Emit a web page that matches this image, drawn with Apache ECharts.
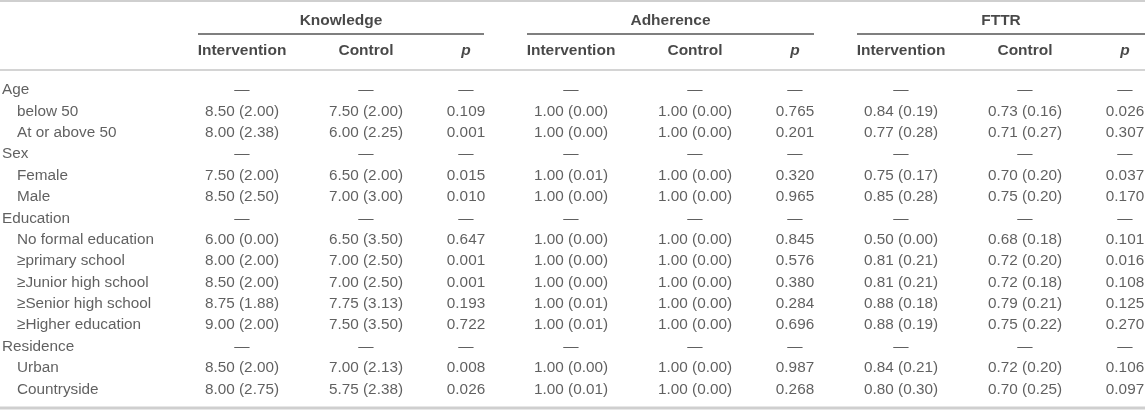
<!DOCTYPE html>
<html>
<head>
<meta charset="utf-8">
<script src="https://cdn.jsdelivr.net/npm/echarts@6/dist/echarts.min.js"></script>
<style>
  html, body { margin: 0; padding: 0; background: #fff; }
  #table-chart { width: 1145px; height: 410px; }
</style>
</head>
<body>
<div id="table-chart"></div>
<script>
// Table data
const rowLabels = ["Age", "below 50", "At or above 50", "Sex", "Female", "Male", "Education",
  "No formal education", "≥primary school", "≥Junior high school", "≥Senior high school",
  "≥Higher education", "Residence", "Urban", "Countryside"];
const groupNames = ["Knowledge", "Adherence", "FTTR"];
const subHeaders = ["Intervention", "Control", "p"];

const knowledgeInt = ["—", "8.50 (2.00)", "8.00 (2.38)", "—", "7.50 (2.00)", "8.50 (2.50)", "—", "6.00 (0.00)", "8.00 (2.00)", "8.50 (2.00)", "8.75 (1.88)", "9.00 (2.00)", "—", "8.50 (2.00)", "8.00 (2.75)"];
const knowledgeCtl = ["—", "7.50 (2.00)", "6.00 (2.25)", "—", "6.50 (2.00)", "7.00 (3.00)", "—", "6.50 (3.50)", "7.00 (2.50)", "7.00 (2.50)", "7.75 (3.13)", "7.50 (3.50)", "—", "7.00 (2.13)", "5.75 (2.38)"];
const knowledgeP = ["—", "0.109", "0.001", "—", "0.015", "0.010", "—", "0.647", "0.001", "0.001", "0.193", "0.722", "—", "0.008", "0.026"];
const adherenceInt = ["—", "1.00 (0.00)", "1.00 (0.00)", "—", "1.00 (0.01)", "1.00 (0.00)", "—", "1.00 (0.00)", "1.00 (0.00)", "1.00 (0.00)", "1.00 (0.01)", "1.00 (0.01)", "—", "1.00 (0.00)", "1.00 (0.01)"];
const adherenceCtl = ["—", "1.00 (0.00)", "1.00 (0.00)", "—", "1.00 (0.00)", "1.00 (0.00)", "—", "1.00 (0.00)", "1.00 (0.00)", "1.00 (0.00)", "1.00 (0.00)", "1.00 (0.00)", "—", "1.00 (0.00)", "1.00 (0.00)"];
const adherenceP = ["—", "0.765", "0.201", "—", "0.320", "0.965", "—", "0.845", "0.576", "0.380", "0.284", "0.696", "—", "0.987", "0.268"];
const fttrInt = ["—", "0.84 (0.19)", "0.77 (0.28)", "—", "0.75 (0.17)", "0.85 (0.28)", "—", "0.50 (0.00)", "0.81 (0.21)", "0.81 (0.21)", "0.88 (0.18)", "0.88 (0.19)", "—", "0.84 (0.21)", "0.80 (0.30)"];
const fttrCtl = ["—", "0.73 (0.16)", "0.71 (0.27)", "—", "0.70 (0.20)", "0.75 (0.20)", "—", "0.68 (0.18)", "0.72 (0.20)", "0.72 (0.18)", "0.79 (0.21)", "0.75 (0.22)", "—", "0.72 (0.20)", "0.70 (0.25)"];
const fttrP = ["—", "0.026", "0.307", "—", "0.037", "0.170", "—", "0.101", "0.016", "0.108", "0.125", "0.270", "—", "0.106", "0.097"];

// Layout (pixel positions on the hidden x axis, 0..1145)
const W = 1145;
const groupStart = [198, 527, 857];
const groupEnd = [484, 814, 1145];
const colOffset = [44, 168, 268];
const labelX = 2;
const indentX = 17;

const columns = [knowledgeInt, knowledgeCtl, knowledgeP, adherenceInt, adherenceCtl, adherenceP, fttrInt, fttrCtl, fttrP];
const isHeading = (i) => columns.every((col) => col[i] === "—");

const font = "'Liberation Sans', Arial, Helvetica, sans-serif";
const bodyText = { fontFamily: font, fontSize: 15.3, color: "#383838" };
const headText = { fontFamily: font, fontSize: 15.5, color: "#1a1a1a", fontWeight: "bold" };

const series = [];

// Row labels
series.push({
  type: "scatter",
  xAxisIndex: 0,
  yAxisIndex: 0,
  symbolSize: 0,
  silent: true,
  data: rowLabels.map((name, i) => [isHeading(i) ? labelX : indentX, i, name]),
  label: { show: true, position: "right", distance: 0, formatter: (p) => p.data[2], ...bodyText },
});

// Data columns
columns.forEach((col, c) => {
  const x = groupStart[Math.floor(c / 3)] + colOffset[c % 3];
  series.push({
    type: "scatter",
    xAxisIndex: 0,
    yAxisIndex: 0,
    symbolSize: 0,
    silent: true,
    data: col.map((v, i) => [x, i, v]),
    label: { show: true, position: "inside", formatter: (p) => p.data[2], ...bodyText },
  });
});

// Header rows: group names and sub headers (p in italics)
series.push({
  type: "scatter",
  xAxisIndex: 1,
  yAxisIndex: 1,
  symbolSize: 0,
  silent: true,
  data: groupNames.map((g, k) => [(groupStart[k] + groupEnd[k]) / 2, 0, g]),
  label: { show: true, position: "inside", formatter: (p) => p.data[2], ...headText },
});
series.push({
  type: "scatter",
  xAxisIndex: 1,
  yAxisIndex: 1,
  symbolSize: 0,
  silent: true,
  data: groupNames.flatMap((g, k) => subHeaders.map((s, j) => [groupStart[k] + colOffset[j], 1, s])),
  label: {
    show: true,
    position: "inside",
    formatter: (p) => (p.data[2] === "p" ? "{i|p}" : p.data[2]),
    ...headText,
    rich: { i: { ...headText, fontStyle: "italic" } },
  },
});

// Horizontal rules
const rule = (y, x1, x2, color, width) => ({
  type: "line",
  silent: true,
  shape: { x1: x1, y1: y, x2: x2, y2: y },
  style: { stroke: color, lineWidth: width },
});
const graphics = [
  rule(1, 0, W, "#cfcfcf", 2),
  rule(70, 0, W, "#d4d4d4", 2),
  rule(408, 0, W, "#cfcfcf", 3),
];
groupNames.forEach((g, k) => graphics.push(rule(34, groupStart[k], groupEnd[k], "#555", 1.3)));

const dom = document.getElementById("table-chart");
const chart = echarts.init(dom, null, { renderer: "canvas" });

const option = {
  backgroundColor: "#fff",
  animation: false,
  grid: [
    { left: 0, right: 0, top: 90, height: 299.4 },
    { left: 0, right: 0, top: 20.7, height: 30 },
  ],
  xAxis: [
    { type: "value", gridIndex: 0, min: 0, max: W, show: false },
    { type: "value", gridIndex: 1, min: 0, max: W, show: false },
  ],
  yAxis: [
    { type: "category", gridIndex: 0, data: rowLabels, inverse: true, boundaryGap: false, show: false },
    { type: "category", gridIndex: 1, data: ["group", "sub"], inverse: true, boundaryGap: false, show: false },
  ],
  series: series,
  graphic: graphics,
};

chart.setOption(option);
window.addEventListener("resize", () => chart.resize());
</script>
</body>
</html>
